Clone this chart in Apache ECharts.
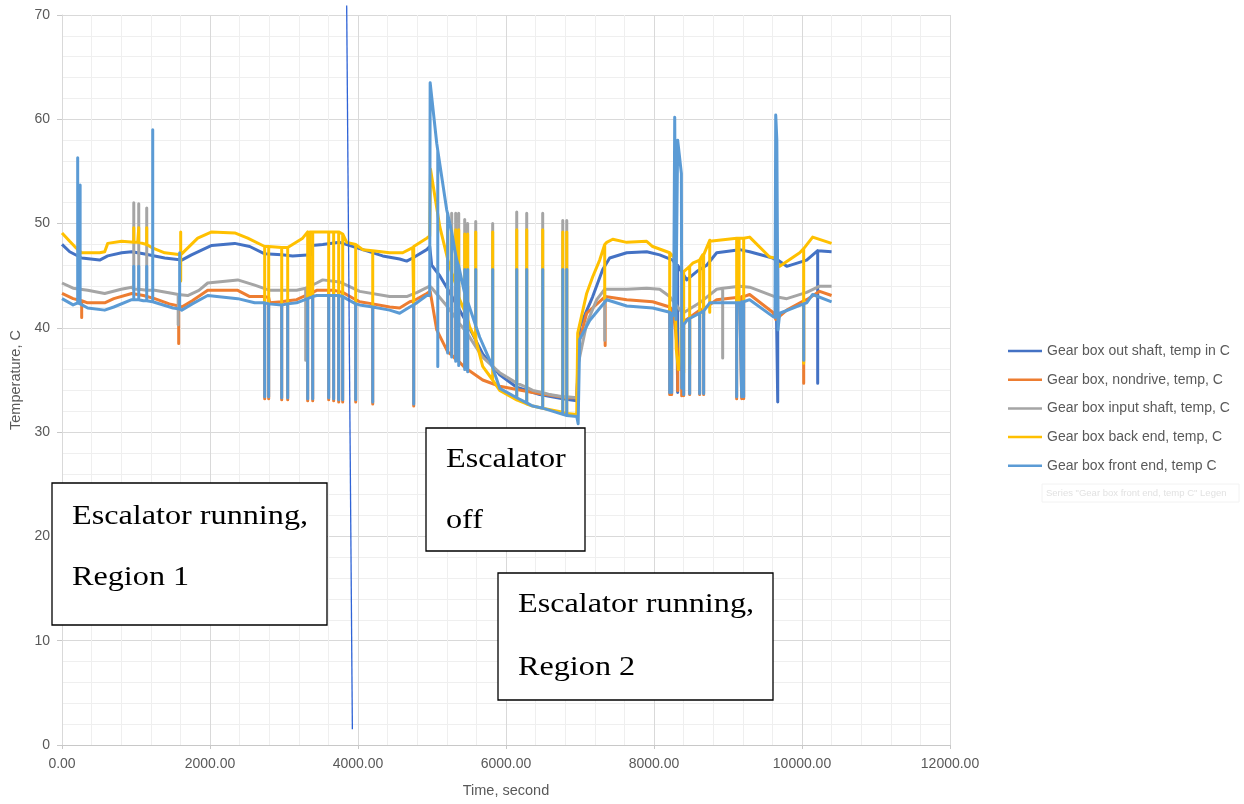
<!DOCTYPE html>
<html>
<head>
<meta charset="utf-8">
<script src="https://cdn.jsdelivr.net/npm/echarts@6/dist/echarts.min.js"></script>
<style>
html,body{margin:0;padding:0;background:#fff;}
#chart{width:1244px;height:804px;}
</style>
</head>
<body>
<div id="chart"></div>
<script>
// ---------- DATA (time in s, temperature in C) ----------
const seriesNames = [
  'Gear box out shaft, temp in C',
  'Gear box, nondrive, temp, C',
  'Gear box input shaft, temp, C',
  'Gear box back end, temp, C',
  'Gear box front end, temp C'
];
const seriesColors = ['#4472C4', '#ED7D31', '#A5A5A5', '#FFC000', '#5B9BD5'];

// out shaft baseline [t, value]
const outShaftBase = [[0,48.0],[104,47.3],[266,46.7],[509,46.5],[618,46.9],[807,47.2],[942,47.3],[1100,47.1],[1388,46.7],[1618,46.5],[1750,47.0],[2023,47.9],[2334,48.1],[2537,47.8],[2739,47.1],[2969,47.0],[3117,46.9],[3360,47.0],[3374,47.9],[3523,48.0],[3752,48.2],[4064,47.5],[4334,46.9],[4563,46.6],[4658,46.4],[4739,46.7],[4929,47.5],[4969,47.8],[4996,46.0],[5105,45.0],[5239,43.4],[5469,40.5],[5685,37.5],[5915,35.5],[6145,34.3],[6456,33.6],[6767,33.2],[6956,33.0],[6996,40.1],[7172,43.0],[7307,45.6],[7401,46.7],[7631,47.2],[7901,47.3],[8077,47.0],[8253,46.5],[8300,46.0],[8442,44.6],[8577,45.4],[8712,46.0],[8847,47.2],[9158,47.5],[9293,47.3],[9604,46.7],[9645,46.5],[9794,45.9],[10063,46.5],[10239,47.5],[10400,47.3]];
// spikes: [t, base, excursion(s)...]
const outShaftSpikes = [[8320,46.0,33.8],[9672,46.5,32.9],[10212,47.4,34.7]];

const nondriveBase = [[0,43.3],[150,42.8],[347,42.4],[577,42.4],[700,42.8],[942,43.3],[1100,43.1],[1253,42.8],[1450,42.3],[1618,42.0],[1760,42.6],[1969,43.6],[2375,43.6],[2537,43.0],[2807,42.4],[3171,42.7],[3442,43.6],[3752,43.5],[4023,42.5],[4428,42.0],[4563,41.9],[4700,42.5],[4929,43.3],[4975,43.5],[5064,39.8],[5239,37.6],[5469,36.0],[5685,35.0],[5915,34.4],[6361,33.8],[6821,33.3],[6956,33.3],[6996,38.9],[7090,41.4],[7361,43.0],[7631,42.7],[7982,42.5],[8212,42.0],[8280,40.5],[8330,37.5],[8360,36.0],[8390,40.7],[8617,41.7],[8847,42.7],[9158,42.9],[9293,43.2],[9604,41.5],[9645,40.8],[9794,41.7],[10063,42.7],[10239,43.5],[10400,43.1]];
const nondriveSpikes = [[266,42.6,41.0],[1577,42.1,38.5],[2739,43.0,33.2],[2793,42.9,33.2],[2969,42.5,33.1],[3050,42.6,33.1],[3320,43.2,33.0],[3388,43.4,33.0],[3604,43.6,33.1],[3671,43.6,33.0],[3739,43.5,32.9],[3793,43.4,32.9],[3969,42.7,32.9],[4199,42.3,32.7],[4753,42.6,32.5],[5212,37.7,44.0],[5266,37.4,44.0],[5320,37.0,44.0],[5361,36.8,44.0],[5442,36.2,44.0],[5482,36.0,44.0],[7340,43.0,38.3],[8212,42.0,33.6],[8239,41.8,33.6],[8320,37.6,34.0],[8374,36.5,33.5],[8401,40.6,33.5],[8482,41.0,33.6],[8617,41.7,33.6],[8671,41.8,33.6],[9117,42.9,33.2],[9185,43.0,33.2],[9212,43.0,33.2],[10023,42.6,34.7]];

const inputShaftBase = [[0,44.3],[150,43.8],[347,43.6],[577,43.3],[800,43.7],[942,43.9],[1253,43.6],[1500,43.3],[1699,43.1],[1850,43.6],[1969,44.3],[2375,44.6],[2604,44.1],[2807,43.6],[3171,43.6],[3442,44.3],[3523,44.6],[3752,44.4],[4023,43.5],[4428,43.0],[4658,43.0],[4800,43.4],[4969,44.0],[5000,43.8],[5239,41.7],[5469,39.5],[5685,37.2],[5915,35.7],[6145,34.7],[6361,34.0],[6591,33.6],[6956,33.3],[6969,36.3],[7090,40.4],[7226,42.7],[7361,43.7],[7631,43.7],[7901,43.8],[8077,43.7],[8212,43.0],[8320,42.0],[8388,41.4],[8617,42.4],[8847,43.7],[9158,44.0],[9293,43.9],[9631,43.0],[9794,42.8],[10063,43.4],[10239,44.0],[10400,44.0]];
const inputShaftSpikes = [[970,43.7,52.0],[1037,43.7,51.9],[1145,43.6,51.5],[1570,43.2,40.3],[3293,43.8,36.9],[5212,42.0,51.0],[5266,41.5,51.0],[5320,40.9,51.0],[5361,40.5,51.0],[5442,39.8,50.4],[5482,39.4,50.0],[5591,38.2,50.2],[5820,36.3,50.0],[6145,34.7,51.1],[6280,34.3,51.0],[6496,33.8,51.0],[6767,33.4,50.3],[6821,33.4,50.3],[7334,43.7,38.8],[8928,43.8,37.1]];

const backEndBase = [[0,49.1],[104,48.3],[172,47.8],[266,47.2],[509,47.2],[577,47.3],[618,48.1],[807,48.3],[1023,48.2],[1212,47.7],[1388,47.2],[1618,47.0],[1834,48.6],[2023,49.2],[2334,49.1],[2510,48.6],[2739,47.8],[3077,47.7],[3252,48.6],[3320,49.2],[3752,49.2],[3847,48.2],[4064,47.5],[4428,47.2],[4604,47.2],[4739,47.7],[4929,48.6],[4969,48.8],[4980,55.2],[5105,49.7],[5239,45.9],[5374,42.7],[5509,40.1],[5685,36.3],[5915,34.0],[6145,33.1],[6361,32.5],[6821,31.8],[6956,31.7],[6969,39.5],[7090,43.3],[7172,44.9],[7266,46.5],[7361,48.2],[7442,48.5],[7631,48.2],[7901,48.3],[7982,47.8],[8212,47.2],[8280,46.7],[8300,38.0],[8330,36.0],[8360,37.5],[8388,45.2],[8523,46.2],[8658,47.0],[8753,48.4],[9158,48.6],[9293,48.7],[9563,46.8],[9631,46.7],[9699,45.9],[9969,47.2],[10144,48.7],[10400,48.1]];
const backEndSpikes = [[970,48.2,49.6],[1037,48.2,49.6],[1145,48.0,49.6],[1604,47.0,49.2,44.5],[2739,47.8,42.5],[2793,47.8,42.5],[2969,47.7,42.4],[3050,47.7,42.4],[3320,49.2,42.8],[3347,49.2,43.0],[3388,49.2,43.0],[3604,49.2,43.1],[3671,49.2,43.1],[3739,49.2,43.1],[3793,49.0,43.0],[3969,48.0,42.3],[4199,47.4,42.0],[4753,47.8,42.2],[5212,46.6,49.4],[5266,45.3,49.4],[5320,44.2,49.4],[5361,43.0,49.4],[5442,41.6,49.0],[5482,40.8,49.0],[5591,38.9,49.2],[5820,35.0,49.2],[6145,33.1,49.4],[6280,32.7,49.4],[6496,32.3,49.4],[6767,31.9,49.2],[6821,31.8,49.2],[7334,48.0,42.8],[8212,47.2,41.5],[8401,45.4,35.7],[8482,45.9,36.5],[8617,46.5,41.0],[8671,47.0,41.2],[8753,48.3,41.5],[9117,48.6,42.5],[9150,48.6,42.5],[9212,48.6,42.5],[10023,47.6,36.6]];

const frontEndBase = [[0,42.8],[150,42.2],[347,41.9],[577,41.7],[700,42.0],[942,42.7],[1100,42.6],[1253,42.4],[1500,41.9],[1618,41.7],[1760,42.3],[1969,43.1],[2375,42.8],[2604,42.4],[2807,42.2],[3171,42.4],[3442,43.1],[3752,43.1],[4023,42.2],[4428,41.7],[4563,41.4],[4700,42.0],[4929,43.1],[4969,43.1],[4975,63.5],[5064,57.7],[5199,51.3],[5334,46.5],[5469,42.7],[5645,39.1],[5780,36.9],[5915,34.2],[6145,33.3],[6361,32.5],[6767,31.7],[6956,31.5],[6975,30.8],[6996,38.9],[7131,40.7],[7361,42.7],[7631,42.1],[7982,41.9],[8212,41.5],[8265,41.2],[8280,60.2],[8295,40.8],[8315,40.8],[8320,58.0],[8370,54.8],[8376,34.2],[8390,40.0],[8442,40.7],[8617,41.4],[8753,42.4],[9158,42.4],[9293,42.7],[9604,41.1],[9635,41.0],[9645,60.4],[9660,58.0],[9675,39.8],[9699,41.4],[10063,42.4],[10144,43.2],[10400,42.5]];
const frontEndSpikes = [[212,42.4,56.3],[245,42.3,53.7],[970,42.7,45.9],[1037,42.7,45.9],[1145,42.6,45.9],[1226,42.5,59.0],[1590,41.8,47.2],[2739,42.4,33.4],[2793,42.3,33.4],[2969,42.2,33.3],[3050,42.3,33.3],[3320,42.8,33.2],[3388,43.0,33.2],[3604,43.1,33.3],[3671,43.1,33.2],[3739,43.1,33.1],[3793,43.0,33.1],[3969,42.3,33.1],[4199,42.0,32.9],[4753,42.2,32.7],[5078,57.0,36.3],[5212,50.9,37.6],[5266,49.2,37.2],[5320,47.0,36.8],[5361,45.9,36.4],[5442,43.3,45.6,36.0],[5482,42.5,45.6,35.8],[5591,40.2,45.6],[5820,36.2,45.6],[6145,33.3,45.6],[6280,32.8,45.6],[6496,32.3,45.6],[6767,31.7,45.6],[6821,31.6,45.6],[8212,41.5,33.8],[8239,41.4,33.8],[8401,40.3,33.6],[8482,40.9,33.7],[8617,41.4,33.7],[8671,41.6,33.7],[9117,42.4,33.4],[9185,42.5,33.4],[9212,42.5,33.4],[10023,42.3,36.9]];

// annotation line (drawn in the original picture)
const markerLine = [[3847,70.9],[3924,1.5]];

// axis ticks
const xMin = 0, xMax = 12000, xStep = 2000;
const yMin = 0, yMax = 70, yStep = 10;

// ---------- BUILD ----------
function build(base, spikes) {
  const pts = base.map(p => ({t: p[0], vals: [p[1]]}));
  spikes.forEach(s => pts.push({t: s[0], vals: s.slice(1).concat([s[1]])}));
  pts.sort((a, b) => a.t - b.t);
  const out = [];
  pts.forEach(p => p.vals.forEach(v => out.push([p.t, v])));
  return out;
}
const allData = [
  build(outShaftBase, outShaftSpikes),
  build(nondriveBase, nondriveSpikes),
  build(inputShaftBase, inputShaftSpikes),
  build(backEndBase, backEndSpikes),
  build(frontEndBase, frontEndSpikes)
];

const chart = echarts.init(document.getElementById('chart'), null, {renderer: 'canvas'});
const FONT = 'Liberation Sans';
const series = seriesNames.map((n, i) => ({
  name: n, type: 'line', data: allData[i], showSymbol: false, symbol: 'none',
  lineStyle: {color: seriesColors[i], width: 3, join: 'round'},
  itemStyle: {color: seriesColors[i]},
  animation: false
}));
series.push({
  name: 'marker', type: 'line', data: markerLine, clip: false, showSymbol: false, symbol: 'none',
  lineStyle: {color: '#2f63d6', width: 1.3}, silent: true, animation: false, z: 5
});

function box(x, y, w, h, lines, lineY) {
  const children = [{type: 'rect', z: 100, shape: {x: 0, y: 0, width: w, height: h},
    style: {fill: '#ffffff', stroke: '#000000', lineWidth: 1.3}}];
  lines.forEach((t, k) => children.push({
    type: 'text', z: 101, x: 20, y: lineY[k], scaleX: 1.15,
    style: {text: t, font: '28px "Liberation Serif"', fill: '#000000', verticalAlign: 'middle', align: 'left'}
  }));
  return {type: 'group', x: x, y: y, z: 100, children: children};
}

chart.setOption({
  backgroundColor: '#fff',
  animation: false,
  grid: {left: 62, right: 294, top: 15, bottom: 59, containLabel: false},
  xAxis: {
    type: 'value', min: xMin, max: xMax, interval: xStep,
    name: 'Time, second', nameLocation: 'middle', nameGap: 38,
    nameTextStyle: {color: '#595959', fontSize: 14.5, fontFamily: FONT},
    axisLine: {show: true, lineStyle: {color: '#c8c8c8', width: 1}},
    axisTick: {show: true, length: 4, lineStyle: {color: '#c8c8c8'}},
    axisLabel: {color: '#595959', fontSize: 14, fontFamily: FONT, margin: 12, formatter: v => v.toFixed(2)},
    splitLine: {show: true, lineStyle: {color: '#d9d9d9', width: 1}},
    minorTick: {show: false, splitNumber: 5},
    minorSplitLine: {show: true, lineStyle: {color: '#efefef', width: 1}}
  },
  yAxis: {
    type: 'value', min: yMin, max: yMax, interval: yStep,
    name: 'Temperature, C', nameLocation: 'middle', nameGap: 34, nameRotate: 90,
    nameTextStyle: {color: '#595959', fontSize: 14.5, fontFamily: FONT},
    axisLine: {show: true, lineStyle: {color: '#d9d9d9', width: 1}},
    axisTick: {show: true, length: 5, lineStyle: {color: '#c8c8c8'}},
    axisLabel: {color: '#595959', fontSize: 14, fontFamily: FONT, margin: 12},
    splitLine: {show: true, lineStyle: {color: '#d9d9d9', width: 1}},
    minorTick: {show: false, splitNumber: 5},
    minorSplitLine: {show: true, lineStyle: {color: '#efefef', width: 1}}
  },
  legend: {
    data: seriesNames, orient: 'vertical', left: 1003, top: 339,
    icon: 'rect', itemWidth: 34, itemHeight: 2.5, itemGap: 14.7,
    textStyle: {color: '#595959', fontSize: 14, fontFamily: FONT},
    inactiveColor: '#ccc', selectedMode: false
  },
  graphic: [
    box(52, 483, 275, 142, ['Escalator running,', 'Region 1'], [34, 95]),
    box(426, 428, 159, 123, ['Escalator', 'off'], [32, 93]),
    box(498, 573, 275, 127, ['Escalator running,', 'Region 2'], [32, 95]),
    {type: 'rect', z: 50, shape: {x: 1042, y: 484, width: 197, height: 18},
     style: {fill: 'none', stroke: '#f2f2f2', lineWidth: 1}},
    {type: 'text', z: 50, x: 1046, y: 493,
     style: {text: 'Series "Gear box front end, temp C" Legen', font: '9.5px "Liberation Sans"', fill: '#e2e2e2', verticalAlign: 'middle'}}
  ],
  series: series
});
</script>
</body>
</html>
